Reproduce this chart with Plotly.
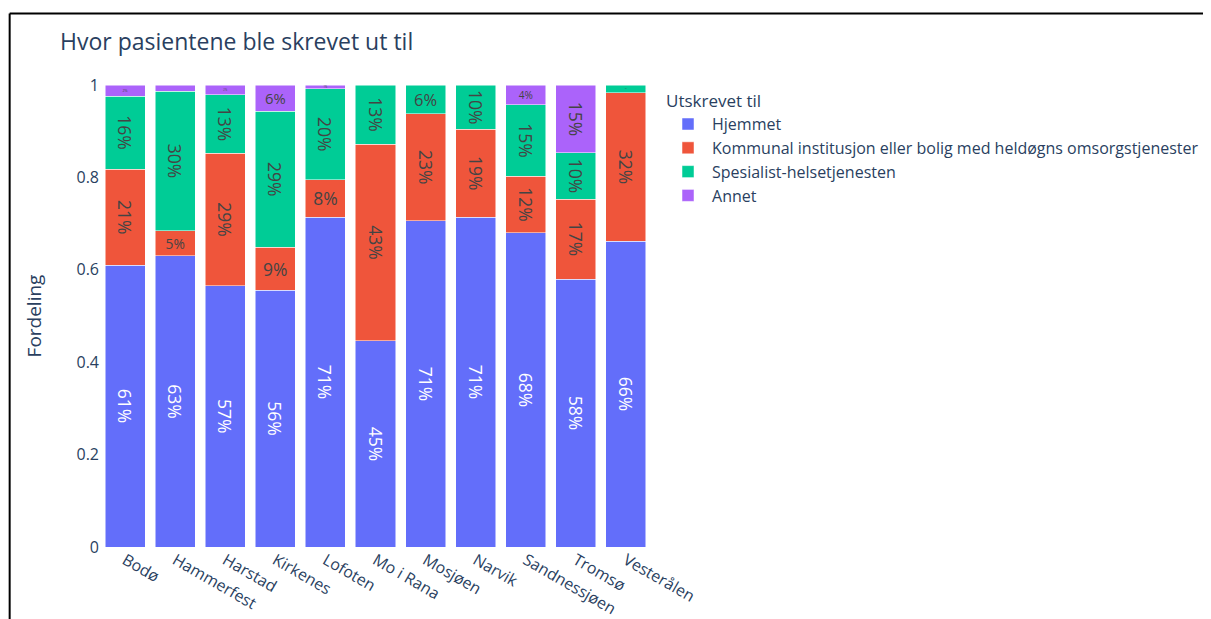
import plotly.graph_objects as go

steder = ["Bodø", "Hammerfest", "Harstad", "Kirkenes", "Lofoten", "Mo i Rana",
          "Mosjøen", "Narvik", "Sandnessjøen", "Tromsø", "Vesterålen"]

hjemmet = [0.610, 0.630, 0.566, 0.556, 0.714, 0.446, 0.706, 0.714, 0.680, 0.580, 0.662]
kommunal = [0.208, 0.054, 0.286, 0.093, 0.081, 0.426, 0.232, 0.190, 0.123, 0.173, 0.321]
spesialist = [0.158, 0.303, 0.127, 0.294, 0.197, 0.128, 0.062, 0.096, 0.154, 0.100, 0.017]
annet = [0.024, 0.013, 0.021, 0.057, 0.008, None, None, None, 0.043, 0.147, None]

serier = [
    ("Hjemmet", hjemmet, "#636efa"),
    ("Kommunal institusjon eller bolig med heldøgns omsorgstjenester", kommunal, "#EF553B"),
    ("Spesialist-helsetjenesten", spesialist, "#00cc96"),
    ("Annet", annet, "#ab63fa"),
]

fig = go.Figure()
for navn, verdier, farge in serier:
    fig.add_trace(go.Bar(
        x=steder, y=verdier, name=navn,
        marker=dict(color=farge, line=dict(color="white", width=0.5)),
        texttemplate="%{y:.0%}", textposition="inside", insidetextanchor="middle",
        textfont=dict(size=17.5),
    ))

# plot area geometry (figure pixels)
L, T, PW, PH = 91.5, 77, 552, 462.5
W, H = 1211, 619
top_line_y = (T + PH - 5.5) / PH
left_line_x = (1 - L) / PW

fig.update_layout(
    template="plotly",
    barmode="stack",
    width=W, height=H,
    paper_bgcolor="white", plot_bgcolor="white",
    font=dict(family='"Open Sans", verdana, arial, sans-serif', size=16, color="#2a3f5f"),
    title=dict(text="Hvor pasientene ble skrevet ut til", x=52 / W, xanchor="left",
               y=1 - 34 / H, yanchor="middle", font=dict(size=23)),
    margin=dict(l=L, r=W - L - PW, t=T, b=H - T - PH, autoexpand=False),
    legend=dict(title=dict(text="Utskrevet til", font=dict(size=17)), traceorder="normal",
                tracegroupgap=0, itemwidth=38, x=1.02 + 2 / PW, y=1.0),
    xaxis=dict(showgrid=False, tickangle=30),
    yaxis=dict(title=dict(text="Fordeling", standoff=29), showgrid=False, zeroline=False, range=[0, 1],
               tickvals=[0, 0.2, 0.4, 0.6, 0.8, 1], ticktext=["0", "0.2", "0.4", "0.6", "0.8", "1"]),
    shapes=[
        dict(type="line", xref="paper", yref="paper", x0=left_line_x, x1=2.2,
             y0=top_line_y, y1=top_line_y, line=dict(color="black", width=2)),
        dict(type="line", xref="paper", yref="paper", x0=left_line_x, x1=left_line_x,
             y0=top_line_y, y1=-0.3, line=dict(color="black", width=2)),
    ],
)

fig.write_html("out.html")
